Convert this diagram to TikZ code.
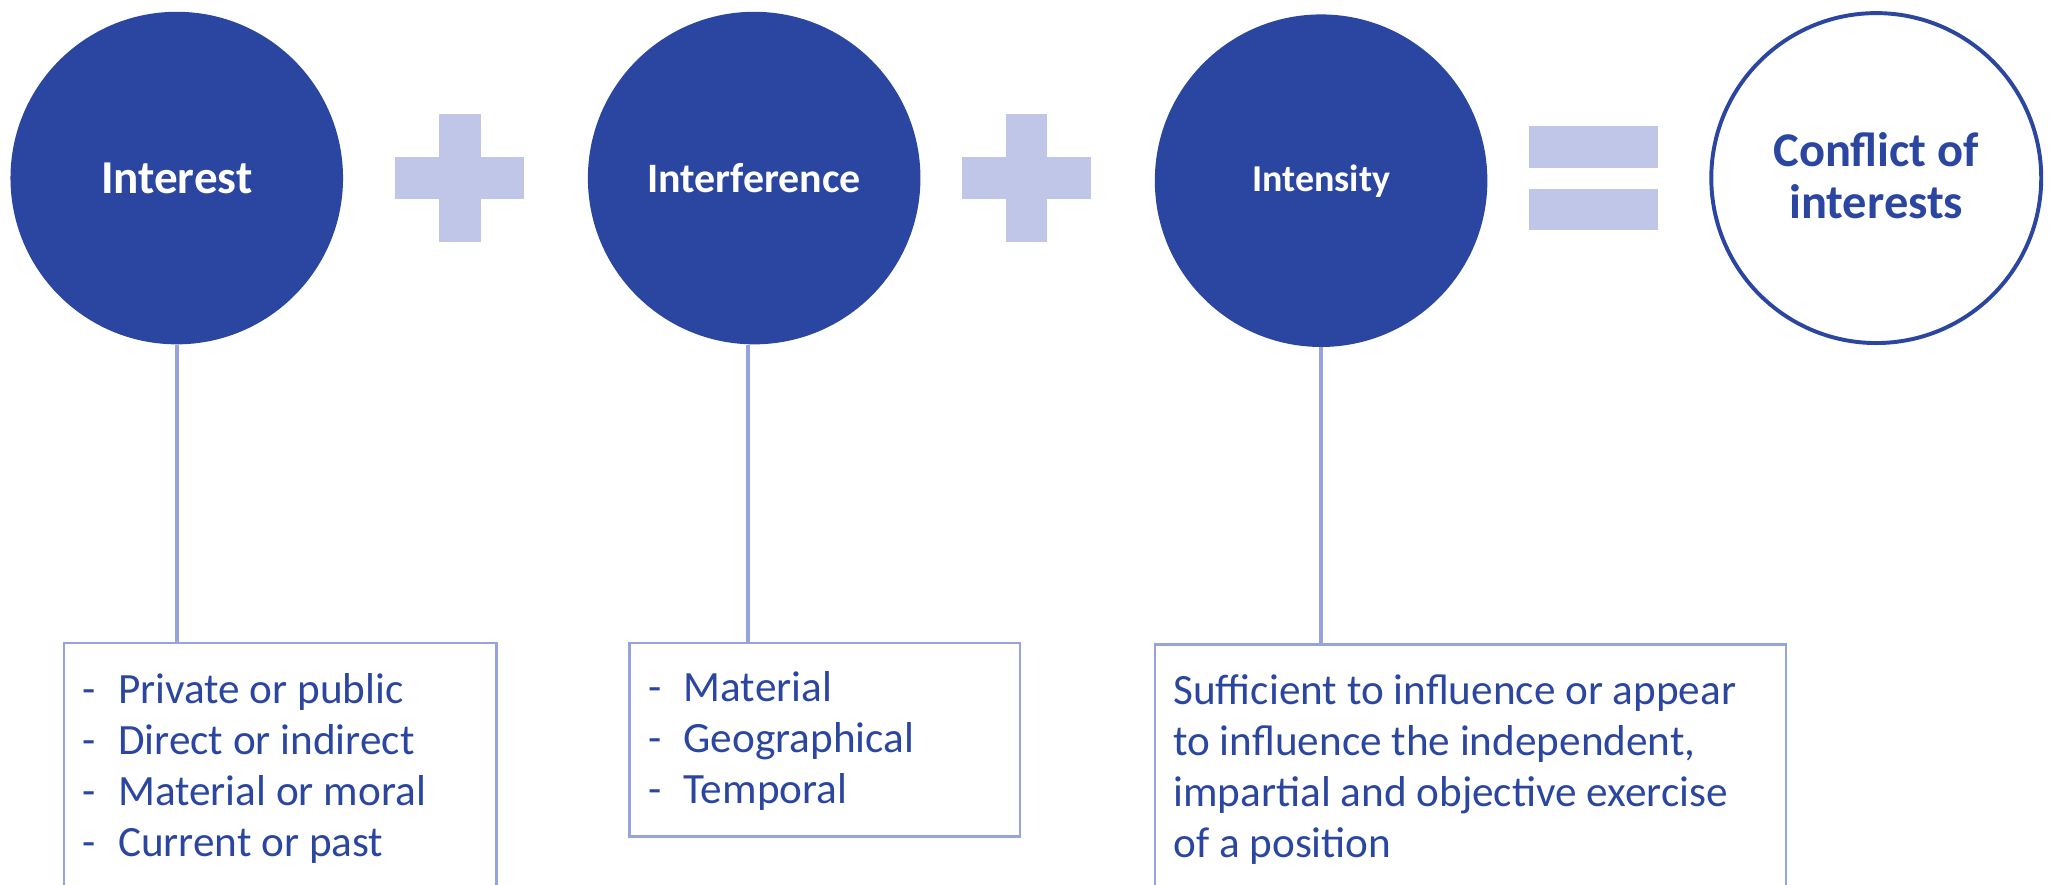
\documentclass[tikz,border=0pt]{standalone}
\usepackage{fontspec}
\setmainfont{Carlito}
\definecolor{dblue}{RGB}{43,70,160}
\definecolor{lav}{RGB}{192,198,232}
\definecolor{lline}{RGB}{150,163,220}
\tikzset{
  bigc/.style={circle, minimum size=254pt, inner sep=0pt, fill=dblue, text=white, font=\bfseries, align=center},
  outc/.style={circle, minimum size=252pt, inner sep=0pt, draw=dblue, line width=3pt, fill=white},
  boxr/.style={draw=lline, line width=2pt, anchor=north west, inner sep=0pt},
  boxt/.style={anchor=base west, inner sep=0pt, text=dblue, font=\fontsize{33}{39}\selectfont},
  conn/.style={draw=lline, line width=3pt},
  sym/.style={fill=lav}
}
\newcommand{\dl}{\makebox[27pt][l]{-}}
\begin{document}
\begin{tikzpicture}[x=1pt,y=-1pt]
\useasboundingbox (0,0) rectangle (1568,675.2);
% circles
\node[bigc, font=\bfseries\fontsize{36}{40}\selectfont] (c1) at (135,136) {Interest};
\node[bigc, font=\bfseries\fontsize{32}{38}\selectfont] (c2) at (576,136) {Interference};
\node[bigc, font=\bfseries\fontsize{29}{34}\selectfont, yshift=-2pt] (c3) at (1009,136) {Intensity};
\node[outc] (c4) at (1433,136) {};
\node[anchor=base, inner sep=0pt, text=dblue, font=\bfseries\fontsize{37}{39.3}\selectfont] (c4t) at (1433,127.5) {\begin{tabular}[t]{@{}c@{}}Conflict of\\ interests\end{tabular}};
% plus and equals signs
\fill[sym] (302,120) rectangle (400,152);
\fill[sym] (335,87) rectangle (367,185);
\fill[sym] (735,120) rectangle (833,152);
\fill[sym] (768,87) rectangle (800,185);
\fill[sym] (1168,96) rectangle (1266,128);
\fill[sym] (1168,144) rectangle (1266,176);
% boxes
\node[boxr, minimum width=330pt, minimum height=420pt] (b1) at (48,490) {};
\node[boxr, minimum width=298pt, minimum height=148pt] (b2) at (480,490) {};
\node[boxr, minimum width=482pt, minimum height=420pt] (b3) at (881,491) {};
% connectors
\draw[conn] (c1.south) -- (c1.south |- b1.north);
\draw[conn] (c2.south) ++(-4.5,0) coordinate (c2s) -- (c2s |- b2.north);
\draw[conn] (c3.south) -- (c3.south |- b3.north);
% texts
\node[boxt] (t1) at (63,537) {\begin{tabular}[t]{@{}l@{}}\dl Private or public\\ \dl Direct or indirect\\ \dl Material or moral\\ \dl Current or past\end{tabular}};
\node[boxt] (t2) at (495,536) {\begin{tabular}[t]{@{}l@{}}\dl Material\\ \dl Geographical\\ \dl Temporal\end{tabular}};
\node[boxt] (t3) at (896,538) {\begin{tabular}[t]{@{}l@{}}Sufficient to influence or appear\\ to influence the independent,\\ impartial and objective exercise\\ of a position\end{tabular}};
\end{tikzpicture}
\end{document}
